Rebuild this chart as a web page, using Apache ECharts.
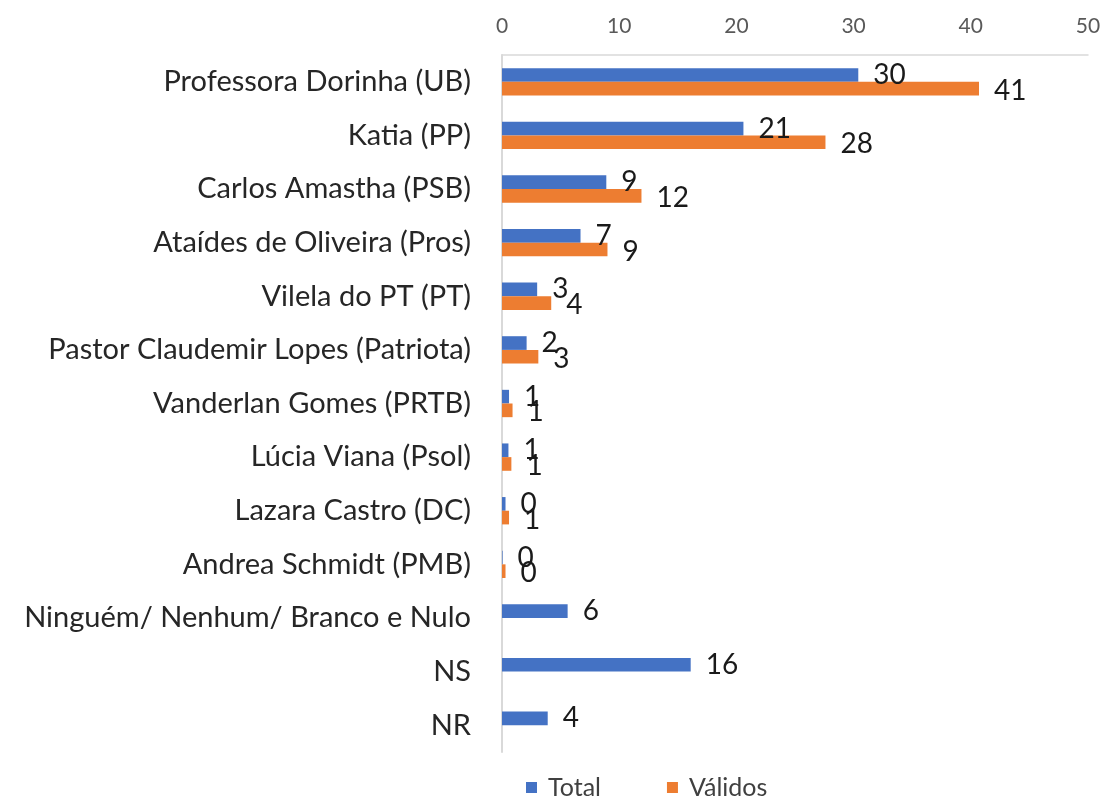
<!DOCTYPE html>
<html>
<head>
<meta charset="utf-8">
<script src="https://cdn.jsdelivr.net/npm/echarts@6/dist/echarts.min.js"></script>
<style>
  html, body { margin: 0; padding: 0; background: #ffffff; }
  #chart { width: 1105px; height: 802px; }
</style>
</head>
<body>
<div id="chart"></div>
<script>
  // categories, top to bottom
  var categories = [
    "Professora Dorinha (UB)",
    "Katia (PP)",
    "Carlos Amastha (PSB)",
    "Ataídes de Oliveira (Pros)",
    "Vilela do PT (PT)",
    "Pastor Claudemir Lopes (Patriota)",
    "Vanderlan Gomes (PRTB)",
    "Lúcia Viana (Psol)",
    "Lazara Castro (DC)",
    "Andrea Schmidt (PMB)",
    "Ninguém/ Nenhum/ Branco e Nulo",
    "NS",
    "NR"
  ];
  var totalValues = [30.4, 20.6, 8.9, 6.7, 3.0, 2.1, 0.6, 0.55, 0.3, 0.05, 5.6, 16.1, 3.9];
  var validosValues = [40.7, 27.6, 11.9, 9.0, 4.2, 3.1, 0.9, 0.8, 0.6, 0.3, null, null, null];
  var xTicks = [0, 10, 20, 30, 40, 50];

  var fontFamily = "Lato, 'Open Sans', sans-serif";

  function roundLabel(p) {
    return Math.round(p.value);
  }

  var myChart = echarts.init(document.getElementById("chart"));
  myChart.setOption({
    animation: false,
    textStyle: { fontFamily: fontFamily },
    grid: {
      left: 502,
      right: 17,
      top: 55,
      bottom: 50
    },
    legend: {
      top: 770,
      left: 521,
      itemWidth: 11,
      itemHeight: 11,
      itemGap: 66,
      icon: "rect",
      textStyle: {
        fontSize: 25,
        color: "#404040",
        fontFamily: fontFamily,
        padding: [0, 0, 0, 6]
      },
      data: ["Total", "Válidos"]
    },
    xAxis: {
      type: "value",
      position: "top",
      min: xTicks[0],
      max: xTicks[xTicks.length - 1],
      interval: 10,
      axisLine: { show: true, lineStyle: { color: "#d9d9d9", width: 1.5 } },
      axisTick: { show: false },
      splitLine: { show: false },
      axisLabel: { color: "#595959", fontSize: 21, margin: 18 }
    },
    yAxis: {
      type: "category",
      inverse: true,
      data: categories,
      axisLine: { show: true, lineStyle: { color: "#d9d9d9", width: 2 } },
      axisTick: { show: false },
      axisLabel: { color: "#262626", fontSize: 29, margin: 31 }
    },
    series: [
      {
        name: "Total",
        type: "bar",
        data: totalValues,
        barGap: "0%",
        barCategoryGap: "49%",
        itemStyle: { color: "#4472C4" },
        label: {
          show: true,
          position: "right",
          distance: 15,
          fontSize: 28,
          color: "#1a1a1a",
          formatter: roundLabel
        }
      },
      {
        name: "Válidos",
        type: "bar",
        data: validosValues,
        itemStyle: { color: "#ED7D31" },
        label: {
          show: true,
          position: "right",
          distance: 15,
          fontSize: 28,
          color: "#1a1a1a",
          offset: [0, 2],
          formatter: roundLabel
        }
      }
    ]
  });
</script>
</body>
</html>
